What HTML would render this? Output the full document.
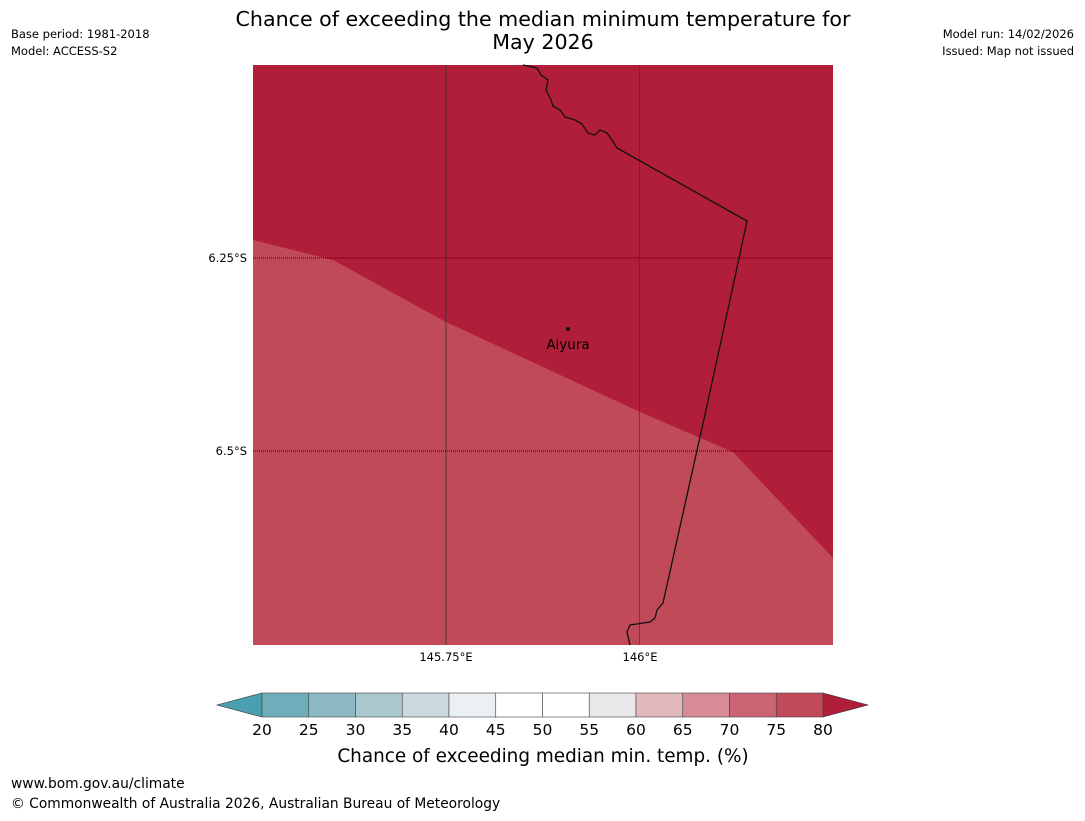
<!DOCTYPE html>
<html><head><meta charset="utf-8"><style>
body{margin:0;background:#fff;width:1085px;height:816px;overflow:hidden;font-family:"Liberation Sans","DejaVu Sans",sans-serif}
svg text{font-family:"DejaVu Sans","Liberation Sans",sans-serif}
</style></head><body>
<svg width="1085" height="816">
<text x="543" y="26" font-size="20.6" text-anchor="middle">Chance of exceeding the median minimum temperature for</text>
<text x="543" y="49" font-size="20.6" text-anchor="middle">May 2026</text>
<text x="11" y="38" font-size="11.5">Base period: 1981-2018</text>
<text x="11" y="55" font-size="11.5">Model: ACCESS-S2</text>
<text x="1074" y="38" font-size="11.5" text-anchor="end">Model run: 14/02/2026</text>
<text x="1074" y="55" font-size="11.5" text-anchor="end">Issued: Map not issued</text>
<g>
<rect x="253" y="65" width="580" height="580" fill="#b01e3a"/>
<polygon points="253,240 333,260 446,322 640,412 733,452 833,558 833,645 253,645" fill="#c04a58"/>
<line x1="446" y1="65" x2="446" y2="645" stroke="#333" stroke-width="1" stroke-opacity="0.8"/>
<line x1="639.5" y1="65" x2="639.5" y2="645" stroke="#333" stroke-width="1" stroke-opacity="0.6"/>
<line x1="253" y1="258" x2="833" y2="258" stroke="#111" stroke-width="1" stroke-dasharray="1,1"/>
<line x1="253" y1="451" x2="833" y2="451" stroke="#111" stroke-width="1" stroke-dasharray="1,1"/>
<polyline fill="none" stroke="#111" stroke-width="1.3" points="523,65 537,68 541,75 548,80 546,90 551,100 553,106 560,110 565,117 575,120 582,124 588,133 595,135 600,130 607,133 612,140 617,148 747,221 730,300 706,410 663,603 657,610 655,618 650,622 630,625 627,632 630,645"/>
<circle cx="568" cy="329" r="2" fill="#111"/>
<text x="568" y="349" font-size="13.5" text-anchor="middle">Aiyura</text>
</g>
<text x="247" y="262" font-size="11.5" text-anchor="end">6.25°S</text>
<text x="247" y="455" font-size="11.5" text-anchor="end">6.5°S</text>
<text x="446" y="661" font-size="11.5" text-anchor="middle">145.75°E</text>
<text x="640" y="661" font-size="11.5" text-anchor="middle">146°E</text>
<g id="cbar"></g>
<text x="543" y="762" font-size="18.4" text-anchor="middle">Chance of exceeding median min. temp. (%)</text>
<text x="11" y="788" font-size="13.8">www.bom.gov.au/climate</text>
<text x="11" y="808" font-size="13.8">© Commonwealth of Australia 2026, Australian Bureau of Meteorology</text>
</svg>
<script>
const levels=[20,25,30,35,40,45,50,55,60,65,70,75,80];
const binColors=["#6fadbb","#8cb9c4","#a9c8cd","#c9d9dc","#ebf0f2","#ffffff","#ffffff","#e8e8e8","#e2b8bd","#d68b96","#ca6674","#c04a58"];
const underColor="#4aa0b0",overColor="#b01e3a";
const NS="http://www.w3.org/2000/svg";
const g=document.getElementById('cbar');
const x0=262,x1=823,yT=693,yB=717;
const sx=v=>x0+(v-levels[0])/(levels[levels.length-1]-levels[0])*(x1-x0);
function mk(t,a){const e=document.createElementNS(NS,t);for(const k in a)e.setAttribute(k,a[k]);g.appendChild(e);return e;}
const l=mk('polygon',{points:`${x0},${yT} ${x0},${yB} 217,705`,fill:underColor,stroke:'#333','stroke-width':0.6});


const r=mk('polygon',{points:`${x1},${yT} ${x1},${yB} 868,705`,fill:overColor,stroke:'#333','stroke-width':0.6});


for(let i=0;i<binColors.length;i++){
 const a=sx(levels[i]),b=sx(levels[i+1]);
 const rc=mk('rect',{x:a,y:yT,width:b-a,height:yB-yT,fill:binColors[i],stroke:'#444','stroke-width':0.6});
 
 
}
levels.forEach(v=>{
 const t=mk('text',{x:sx(v),y:735,'font-size':15.5,'text-anchor':'middle'});
 t.textContent=v;
 
 
});
</script>
</body></html>
